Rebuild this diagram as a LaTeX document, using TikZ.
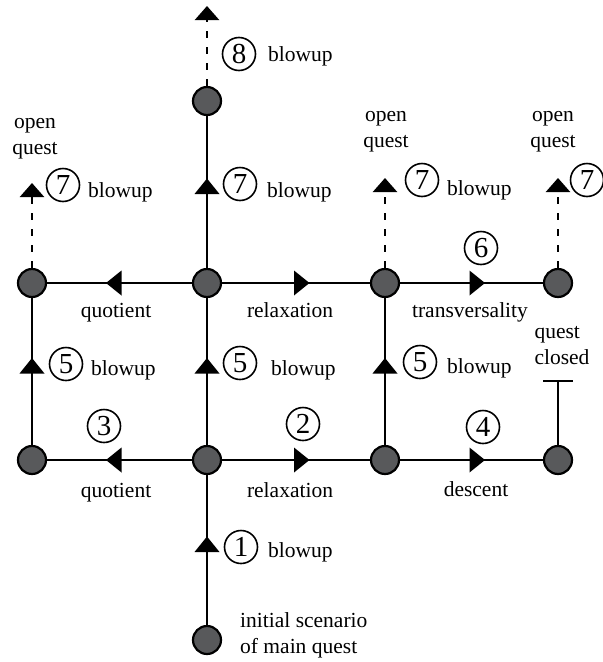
\documentclass[tikz,border=0pt]{standalone}
\usepackage{fontspec}
\setmainfont{Liberation Serif}
\usetikzlibrary{arrows.meta,decorations.markings}
\definecolor{stategray}{RGB}{88,89,91}

\begin{document}
\begin{tikzpicture}[x=1pt,y=-1pt,
  state/.style={circle,draw=black,line width=2.2pt,fill=stategray,minimum size=28pt,inner sep=0pt},
  num/.style={circle,draw=black,line width=1.6pt,minimum size=33pt,inner sep=0pt,
              font=\fontsize{29}{29}\selectfont},
  lbl/.style={font=\fontsize{21.5}{26}\selectfont,inner sep=0pt},
  link/.style={line width=2.4pt},
  mid/.style={postaction=decorate,decoration={markings,
      mark=at position 0.5 with {\fill[black] (-2,-12.5) -- (13.5,0) -- (-2,12.5) -- cycle;}}},
  open/.style={line width=2.4pt,dash pattern=on 7pt off 9pt,-{Triangle[width=24pt,length=14pt]}},
  closed/.style={line width=2.4pt,-{Bar[width=30pt]}}
]
\useasboundingbox (0,0) rectangle (603,662);

% scenario states
\node[state] (s0) at (207,640) {};
\node[state] (a1) at (32,460) {};
\node[state] (a2) at (207,460) {};
\node[state] (a3) at (385,460) {};
\node[state] (a4) at (558,460) {};
\node[state] (b1) at (32,283) {};
\node[state] (b2) at (207,283) {};
\node[state] (b3) at (385,283) {};
\node[state] (b4) at (558,283) {};
\node[state] (t)  at (207,101) {};

% loose ends of the open quests
\coordinate (o1) at (32,183);
\coordinate (o2) at (385,178);
\coordinate (o3) at (558,178);
\coordinate (o4) at (207,6);
\coordinate (qc) at (558,380);

% moves
\draw[link,mid] (s0) -- (a2);
\draw[link,mid] (a2) -- (a1);
\draw[link,mid] (a2) -- (a3);
\draw[link,mid] (a3) -- (a4);
\draw[link,mid] (a1) -- (b1);
\draw[link,mid] (a2) -- (b2);
\draw[link,mid] (a3) -- (b3);
\draw[link,mid] (b2) -- (b1);
\draw[link,mid] (b2) -- (b3);
\draw[link,mid] (b3) -- (b4);
\draw[link,mid] (b2) -- (t);
\draw[closed] (a4) -- (qc);
\draw[open] (b1) -- (o1);
\draw[open] (b3) -- (o2);
\draw[open] (b4) -- (o3);
\draw[open] (t) -- (o4);

% step numbers
\node[num] (n1) at (241,547) {1};
\node[num] (n2) at (303,424) {2};
\node[num] (n3) at (104,426) {3};
\node[num] (n4) at (483,427) {4};
\node[num] (n5a) at (66,364) {5};
\node[num] (n5b) at (240,363) {5};
\node[num] (n5c) at (420,362) {5};
\node[num] (n6) at (481,248) {6};
\node[num] (n7a) at (63,185) {7};
\node[num] (n7b) at (240,184) {7};
\node[num] (n7c) at (422,180) {7};
\node[num] (n7d) at (587,180) {7};
\node[num] (n8) at (239,54) {8};

% move names
\node[lbl,anchor=base west] (l1) at (268,557) {blowup};
\node[lbl,anchor=base west] (l5a) at (91,375) {blowup};
\node[lbl,anchor=base west] (l5b) at (271,375) {blowup};
\node[lbl,anchor=base west] (l5c) at (447,373) {blowup};
\node[lbl,anchor=base west] (l7a) at (88,197) {blowup};
\node[lbl,anchor=base west] (l7b) at (267,197) {blowup};
\node[lbl,anchor=base west] (l7c) at (447,195) {blowup};
\node[lbl,anchor=base west] (l8) at (268,61) {blowup};
\node[lbl,anchor=base] (q1) at (116,497) {quotient};
\node[lbl,anchor=base] (r1) at (290,497) {relaxation};
\node[lbl,anchor=base] (d1) at (476,496) {descent};
\node[lbl,anchor=base] (q2) at (116,317) {quotient};
\node[lbl,anchor=base] (r2) at (290,317) {relaxation};
\node[lbl,anchor=base] (tv) at (470,317) {transversality};

% quest status
\node[lbl,align=center] (oq1) at (35,139) {open\\quest};
\node[lbl,align=center] (oq2) at (386,132) {open\\quest};
\node[lbl,align=center] (oq3) at (553,132) {open\\quest};
\node[lbl,align=left] (qcl) at (562,346) {quest\\closed};
\node[lbl,align=left,anchor=north west] (init) at (240,612) {initial scenario\\of main quest};
\end{tikzpicture}
\end{document}
